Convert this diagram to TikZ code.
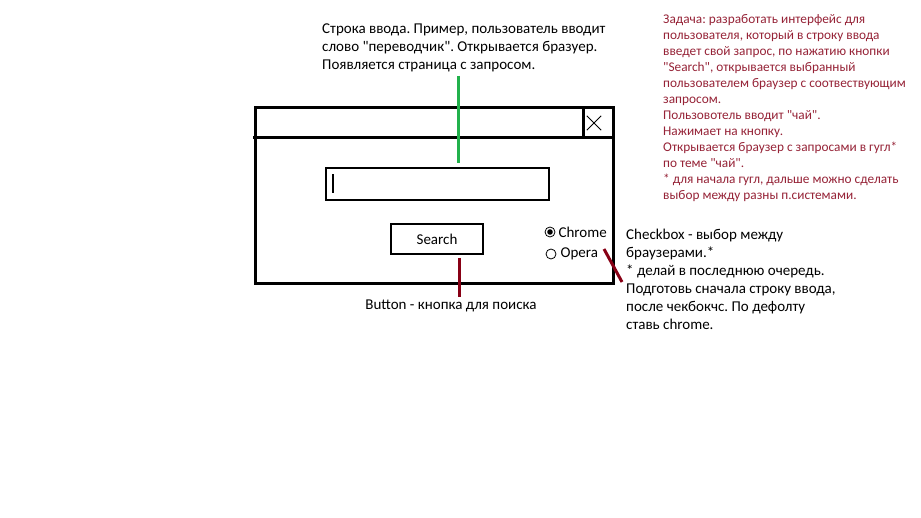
\documentclass[tikz,border=0pt]{standalone}
\usepackage{fontspec}
\setmainfont{Carlito}
\usetikzlibrary{positioning}
\definecolor{notered}{RGB}{136,0,21}
\definecolor{notegreen}{RGB}{34,177,76}
\definecolor{tasktext}{RGB}{150,35,55}
\newcommand\qdbl{\textquotedbl{}}
\frenchspacing
\begin{document}
\begin{tikzpicture}
    [x=1pt,y=-1pt,inner sep=0pt,
     frame/.style={line width=3pt},
     thinbox/.style={draw,line width=1.2pt},
     note/.style={align=left,anchor=north west,font=\fontsize{15}{18}\selectfont},
     tasknote/.style={align=left,anchor=north west,text=tasktext,font=\fontsize{13.3}{16}\selectfont},
     radio/.style={circle,draw,line width=0.8pt,minimum size=10pt},
     pointer/.style={line width=3pt}]
    \fill[white] (0,0) rectangle (921,518);
    \useasboundingbox (0,0) rectangle (921,518);
    % window
    \node (win) at (434,196) [draw,frame,minimum width=358pt,minimum height=176pt] {};
    \coordinate (barl) at (253,138);
    \coordinate (barr) at (613,138);
    \draw[frame] (barl) -- (barr);
    \coordinate (closetop) at (583,108);
    \coordinate (closebot) at (583,138);
    \draw[frame] (closetop) -- (closebot);
    \node (close) at (594,123) [minimum size=14pt] {};
    \draw[line width=0.9pt] (close.north west) -- (close.south east)
      (close.south west) -- (close.north east);
    % input line and button
    \node (input) at (437.5,184) [thinbox,minimum width=223pt,minimum height=32pt] {};
    \node (cursor) at (333,183.5) [minimum width=1.3pt,minimum height=19pt,fill=black] {};
    \node (search) at (437,239) [thinbox,minimum width=92pt,minimum height=30pt,
      font=\fontsize{15}{16}\selectfont] {Search};
    % browser choice
    \node (chromeradio) at (550,232) [radio] {};
    \fill (chromeradio) circle (2.8pt);
    \node (chrome) [right=3pt of chromeradio,font=\fontsize{15}{16}\selectfont] {Chrome};
    \node (operaradio) at (551,254) [radio] {};
    \node (opera) [right=4pt of operaradio,font=\fontsize{15}{16}\selectfont] {Opera};
    % notes
    \node (inputnote) [note] at (322,24) {Строка ввода. Пример, пользователь вводит\\
      слово \qdbl переводчик\qdbl. Открывается бразуер.\\
      Появляется страница с запросом.};
    \node (tasknote) [tasknote] at (663,14) {Задача: разработать интерфейс для\\
      пользователя, который в строку ввода\\
      введет свой запрос, по нажатию кнопки\\
      \qdbl Search\qdbl, открывается выбранный\\
      пользователем браузер с соотвествующим\\
      запросом.\\
      Пользовотель вводит \qdbl чай\qdbl.\\
      Нажимает на кнопку.\\
      Открывается браузер с запросами в гугл*\\
      по теме \qdbl чай\qdbl.\\
      * для начала гугл, дальше можно сделать\\
      выбор между разны п.системами.};
    \node (checknote) [note] at (626,229) {Checkbox - выбор между\\
      браузерами.*\\
      * делай в последнюю очередь.\\
      Подготовь сначала строку ввода,\\
      после чекбокчс. По дефолту\\
      ставь chrome.};
    \node (buttonnote) at (451,306) [font=\fontsize{15}{16}\selectfont] {Button - кнопка для поиска};
    % pointers
    \coordinate (g1) at (458,76);
    \coordinate (g2) at (458,163);
    \draw[pointer,notegreen] (g1) -- (g2);
    \coordinate (b1) at (459,258);
    \coordinate (b2) at (459,297);
    \draw[pointer,notered] (b1) -- (b2);
    \coordinate (c1) at (604,249);
    \coordinate (c2) at (622,282);
    \draw[pointer,notered] (c1) -- (c2);
\end{tikzpicture}
\end{document}
